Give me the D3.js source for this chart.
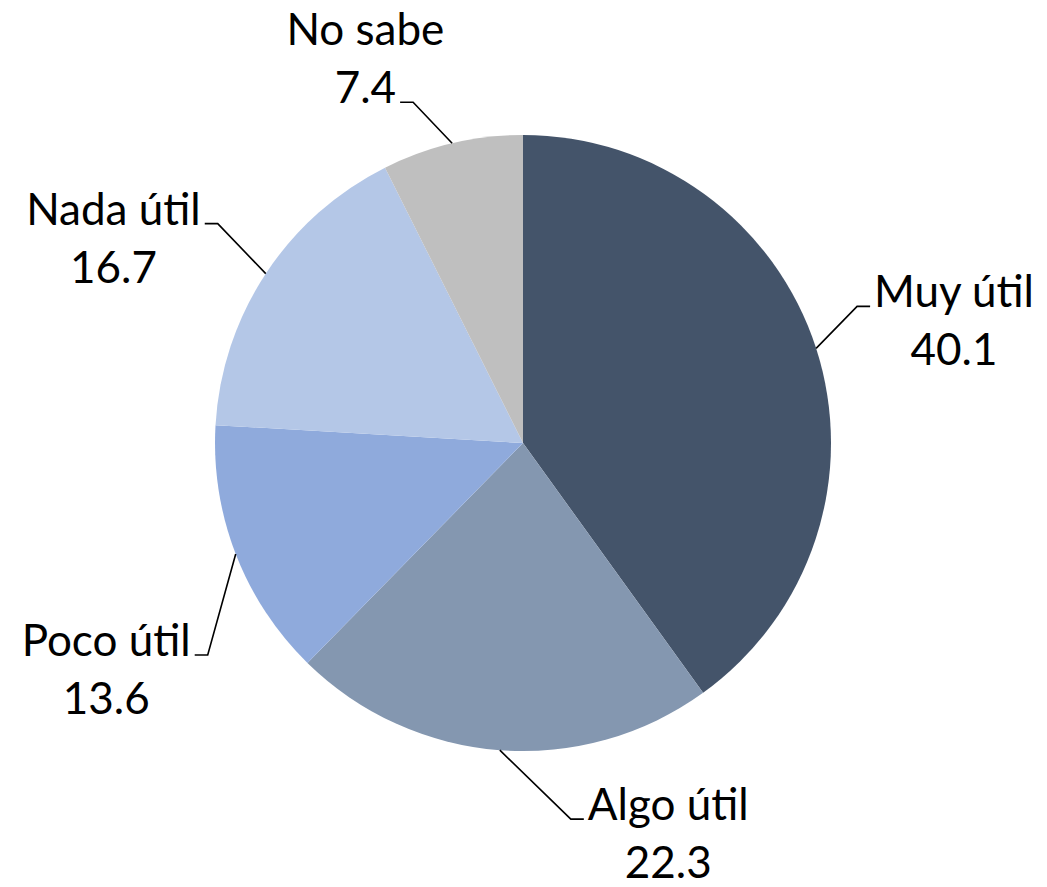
<!DOCTYPE html>
<html>
<head>
<meta charset="utf-8">
<script src="https://cdn.jsdelivr.net/npm/d3@7"></script>
<style>
  body { margin: 0; background: #fff; }
  svg text { font-family: Lato, "Open Sans", sans-serif; fill: #000; }
</style>
</head>
<body>
<div class="pie_container"></div>
<script>
// data
var categories = ["Muy útil", "Algo útil", "Poco útil", "Nada útil", "No sabe"];
var values = [40.1, 22.3, 13.6, 16.7, 7.4];
var colors = ["#44546A", "#8497B0", "#8FAADC", "#B4C7E7", "#BFBFBF"];

var data = categories.map((c, i) => ({ cat: c, val: values[i] }));

var w = 1047
var h = 887
var cx = 523
var cy = 443
var r = 308
var font_size = 44

var svg = d3.select('.pie_container')
            .append('svg')
            .attr('width', w)
            .attr('height', h);

//pie layout, clockwise from 12 o'clock, keep order
var pie = d3.pie()
            .sort(null)
            .value(d => d.val);
var arcs = pie(data);

var arcGen = d3.arc()
               .innerRadius(0)
               .outerRadius(r);

var color_scale = d3.scaleOrdinal()
                    .domain(categories)
                    .range(colors);

var g = svg.append('g')
           .attr('transform', 'translate(' + cx + ',' + cy + ')');

g.selectAll('.slice')
    .data(arcs)
    .enter()
    .append('path')
    .attr('class', 'slice')
    .attr('d', arcGen)
    .style('fill', d => color_scale(d.data.cat));

//label layout: elbow offset from slice edge, side of label, which text line the leader meets
var label_layout = {
    "Muy útil":  { dx: 41,  dy: -42, side: 'right', attach: 0 },
    "Algo útil": { dx: 71,  dy: 69,  side: 'right', attach: 0 },
    "Poco útil": { dx: -28, dy: 101, side: 'left',  attach: 0 },
    "Nada útil": { dx: -48, dy: -50, side: 'left',  attach: 0 },
    "No sabe":   { dx: -39, dy: -41, side: 'left',  attach: 1 }
};
var seg = 13     //horizontal leader length
var gap = 4      //space between leader and text
var line_h = 58  //line spacing

arcs.forEach(function(a) {
    var lay = label_layout[a.data.cat];
    var mid = (a.startAngle + a.endAngle) / 2;
    var ex = Math.sin(mid) * r;
    var ey = -Math.cos(mid) * r;
    var bx = ex + lay.dx;
    var by = ey + lay.dy;
    var sgn = lay.side === 'right' ? 1 : -1;
    var hx = bx + sgn * seg;

    g.append('path')
        .attr('d', d3.line()([[ex, ey], [bx, by], [hx, by]]))
        .attr('fill', 'none')
        .attr('stroke', '#000')
        .attr('stroke-width', 1.6);

    var lines = [a.data.cat, String(a.data.val)];
    var txt = g.append('text')
        .style('font-size', font_size + 'px')
        .style('text-anchor', 'middle');
    var tspans = lines.map(function(s) {
        return txt.append('tspan').text(s);
    });
    var wAttach = tspans[lay.attach].node().getComputedTextLength();
    var center = hx + sgn * (gap + wAttach / 2);
    var base0 = by + 1 - lay.attach * line_h;
    tspans.forEach(function(t, i) {
        t.attr('x', center).attr('y', base0 + i * line_h);
    });
});
</script>
</body>
</html>
